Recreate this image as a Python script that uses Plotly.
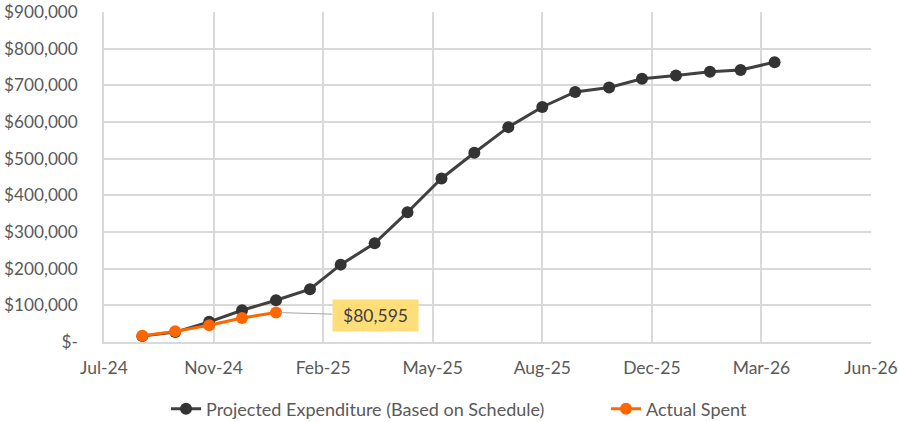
import pandas as pd
import plotly.graph_objects as go

# ---- data ----
months = pd.date_range("2024-08-31", periods=20, freq="ME")
projected = [16000, 27000, 55000, 86500, 114000, 144000, 211000, 269000, 354000, 446000,
             516000, 586000, 641000, 682000, 694000, 718000, 727000, 737000, 742000, 763000]
actual_months = months[:5]
actual = [17000, 29000, 45500, 65500, 80595]

x_start = pd.Timestamp("2024-07-27")
x_step_days = 100
x_tick_labels = ["Jul-24", "Nov-24", "Feb-25", "May-25", "Aug-25", "Dec-25", "Mar-26", "Jun-26"]
y_tick_values = [0, 100000, 200000, 300000, 400000, 500000, 600000, 700000, 800000, 900000]
y_tick_labels = ["$-", "$100,000", "$200,000", "$300,000", "$400,000", "$500,000",
                 "$600,000", "$700,000", "$800,000", "$900,000"]

x_ticks = [x_start + pd.Timedelta(days=x_step_days * i) for i in range(len(x_tick_labels))]

FONT = "Lato"
GRAY_TXT = "#595959"
GRID = "#D9D9D9"

fig = go.Figure()
fig.add_trace(go.Scatter(
    x=months, y=projected, mode="lines+markers",
    name="Projected Expenditure (Based on Schedule)",
    line=dict(color="#404040", width=3),
    marker=dict(color="#333333", size=12),
    cliponaxis=False, legend="legend",
))
fig.add_trace(go.Scatter(
    x=actual_months, y=actual, mode="lines+markers",
    name="Actual Spent",
    line=dict(color="#FF6600", width=3),
    marker=dict(color="#FF6600", size=12),
    cliponaxis=False, legend="legend2",
))

fig.add_annotation(
    x=actual_months[-1], y=actual[-1],
    text=f"${actual[-1]:,}",
    showarrow=True, arrowhead=0, arrowwidth=1, arrowcolor="#A6A6A6",
    ax=99, ay=3, standoff=4,
    bgcolor="#FFDE7A", borderpad=5, width=75,
    font=dict(family=FONT, size=17.5, color="#404040"),
)

legend_common = dict(orientation="h", xanchor="left", yref="container", xref="container",
                     y=13 / 422, yanchor="middle", bgcolor="rgba(0,0,0,0)",
                     font=dict(family=FONT, size=18, color=GRAY_TXT))

fig.update_layout(
    width=898, height=422,
    margin=dict(l=104, r=27, t=12, b=80, autoexpand=False),
    paper_bgcolor="white", plot_bgcolor="white",
    font=dict(family=FONT, size=18, color=GRAY_TXT),
    showlegend=True,
    legend=dict(x=166 / 898, **legend_common),
    legend2=dict(x=606 / 898, **legend_common),
    xaxis=dict(
        type="date", automargin=False,
        range=[x_ticks[0], x_ticks[-1]],
        tickmode="array", tickvals=x_ticks, ticktext=x_tick_labels,
        showgrid=True, gridcolor=GRID, gridwidth=1.5,
        showline=True, linecolor=GRID, linewidth=1.5,
        ticks="", ticklen=0, zeroline=False, ticklabelstandoff=9,
        ticklabeloverflow="allow",
        tickfont=dict(family=FONT, size=17.5, color=GRAY_TXT),
    ),
    yaxis=dict(
        range=[0, 900000], automargin=False,
        tickmode="array", tickvals=y_tick_values, ticktext=y_tick_labels,
        showgrid=True, gridcolor=GRID, gridwidth=1.5,
        showline=True, linecolor=GRID, linewidth=1.5,
        zeroline=False, ticks="", ticklen=0, ticklabelstandoff=21,
        ticklabeloverflow="allow",
        tickfont=dict(family=FONT, size=17.2, color=GRAY_TXT),
    ),
)

fig.write_html(
    "out.html",
    config={"displayModeBar": False},
    post_script="document.body.style.margin='0';document.body.style.overflow='hidden';",
)
